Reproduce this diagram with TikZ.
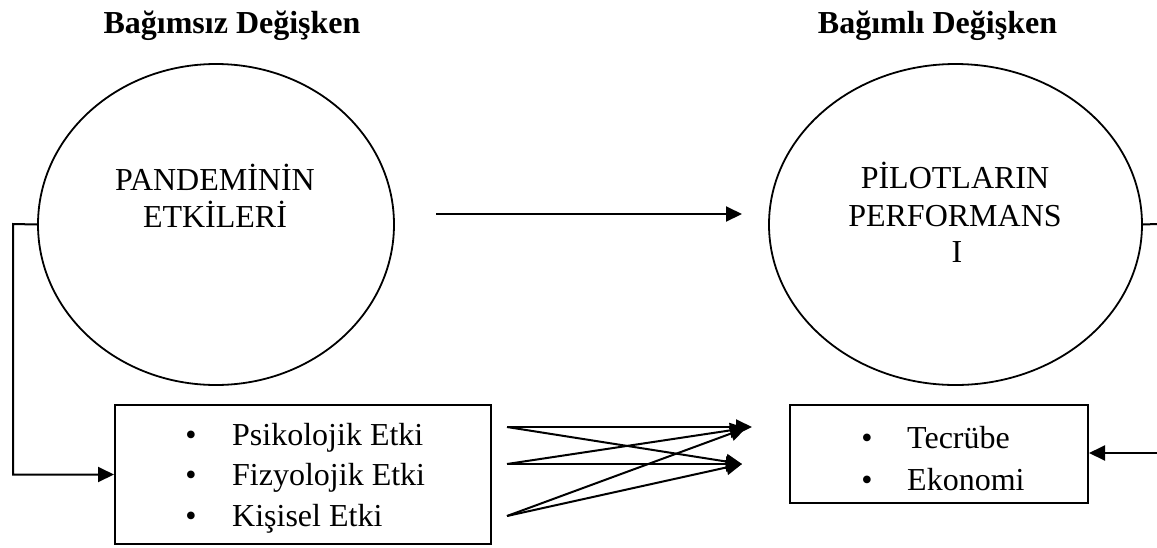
\documentclass[tikz,border=0pt]{standalone}
\usepackage{fontspec}
\setmainfont{Liberation Serif}
\usetikzlibrary{shapes.geometric,arrows.meta}
\begin{document}
\begin{tikzpicture}[x=1pt,y=-1pt,
  txt/.style={inner sep=0pt,font=\fontsize{32}{38}\selectfont},
  hdr/.style={inner sep=0pt,font=\fontsize{32}{38}\selectfont\bfseries},
  oval/.style={draw,ellipse,line width=1.8pt,inner sep=0pt},
  panel/.style={draw,rectangle,line width=2pt,inner sep=0pt},
  conn/.style={line width=2pt},
  arr/.style={conn,-{Triangle[length=16pt,width=15pt]}}]
\useasboundingbox (0,0) rectangle (1157,547);
% headers
\node[hdr,anchor=base] (h1) at (232,33) {Bağımsız Değişken};
\node[hdr,anchor=base] (h2) at (937.5,33) {Bağımlı Değişken};
% ellipses
\node[oval,minimum width=356pt,minimum height=321pt] (pe) at (216,224.5) {};
\node[oval,minimum width=373pt,minimum height=321pt] (pr) at (955.5,224.5) {};
\node[txt,anchor=base] (pe1) at (215,190) {PANDEMİNİN};
\node[txt,anchor=base] (pe2) at (215,227) {ETKİLERİ};
\node[txt,anchor=base] (pr1) at (955,188) {PİLOTLARIN};
\node[txt,anchor=base] (pr2) at (955,226) {PERFORMANS};
\node[txt,anchor=base] (pr3) at (957,262) {I};
% boxes
\node[panel,minimum width=376pt,minimum height=139pt] (lb) at (303,474.5) {};
\node[panel,minimum width=298pt,minimum height=98pt] (rb) at (939,454) {};
\node[txt,anchor=base] (b1) at (191,445) {•};
\node[txt,anchor=base] (b2) at (191,485) {•};
\node[txt,anchor=base] (b3) at (191,526) {•};
\node[txt,anchor=base west] (l1) at (232,445) {Psikolojik Etki};
\node[txt,anchor=base west] (l2) at (232,485) {Fizyolojik Etki};
\node[txt,anchor=base west] (l3) at (232,526) {Kişisel Etki};
\node[txt,anchor=base] (b4) at (867,448) {•};
\node[txt,anchor=base] (b5) at (867,490) {•};
\node[txt,anchor=base west] (r1) at (907,448) {Tecrübe};
\node[txt,anchor=base west] (r2) at (907,490) {Ekonomi};
% connectors
\coordinate (m1) at (436,214);
\coordinate (m2) at (742,214);
\draw[arr] (m1) -- (m2);
\draw[arr] (pe.west) -- (13,224) |- (lb.west);
\coordinate (re1) at (1157,224);
\coordinate (re2) at (1157,453);
\draw[conn] (pr.east) -- (re1);
\draw[arr] (re2) -- (rb.east |- re2);
\coordinate (s1) at (507,427);
\coordinate (s2) at (507,464);
\coordinate (s3) at (507,516);
\coordinate (t1) at (752,427);
\coordinate (t2) at (742,464);
\coordinate (t3) at (746,428);
\draw[arr] (s1) -- (t1);
\draw[arr] (s1) -- (t2);
\draw[arr] (s2) -- (t2);
\draw[arr] (s2) -- (t3);
\draw[arr] (s3) -- (t3);
\draw[arr] (s3) -- (t2);
\end{tikzpicture}
\end{document}
